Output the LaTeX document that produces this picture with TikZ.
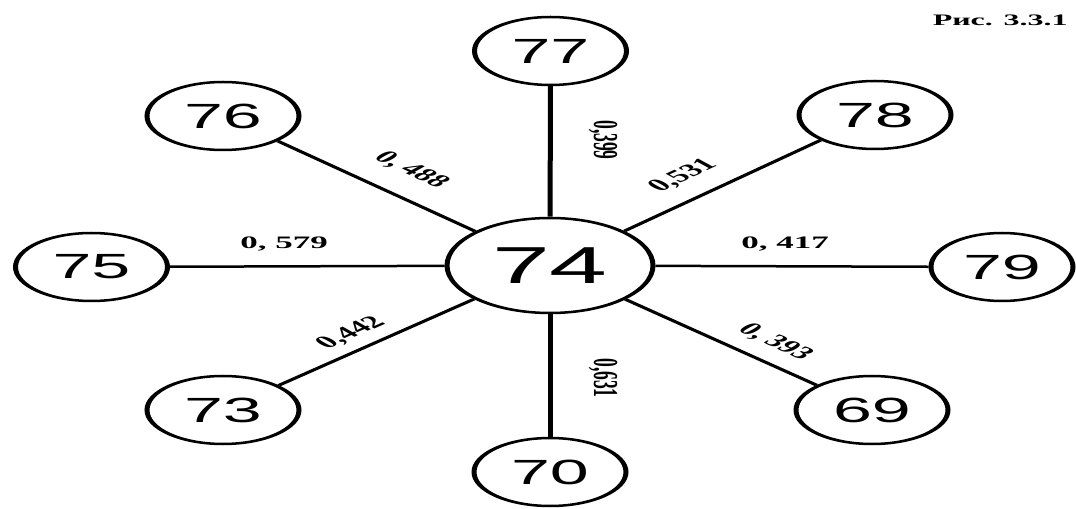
\documentclass[tikz,border=0pt]{standalone}
\usepackage{fontspec}
\setmainfont{Liberation Serif}
\newfontfamily\numfont{Liberation Sans}
\usetikzlibrary{shapes.geometric}
\begin{document}
\begin{tikzpicture}[x=1bp,y=-1bp,
  vert/.style={ellipse,draw,line width=2.5bp,inner sep=0pt,
    minimum width=76bp,minimum height=68bp,
    font=\numfont\fontsize{35bp}{35bp}\selectfont},
  hub/.style={vert,minimum width=103bp,minimum height=95bp,
    font=\numfont\fontsize{52bp}{52bp}\selectfont},
  edge/.style={line width=2.5bp},
  wt/.style={font=\bfseries\fontsize{17.5bp}{17.5bp}\selectfont,inner sep=0pt}]
\useasboundingbox (0,0) rectangle (1076,509);
% the whole drawing is stretched horizontally by a factor of two
\begin{scope}[transform canvas={xscale=2}]
  \node[hub]  (n74) at (275,265.5) {74};
  \node[vert] (n77) at (275.25,51) {77};
  \node[vert] (n76) at (111.5,116) {76};
  \node[vert] (n78) at (437.5,115) {78};
  \node[vert] (n75) at (45.75,267) {75};
  \node[vert,minimum width=71bp] (n79) at (501,267) {79};
  \node[vert] (n73) at (111.5,410) {73};
  \node[vert] (n69) at (436,410) {69};
  \node[vert] (n70) at (275,472) {70};

  \draw[edge] (n74) -- (n77);
  \draw[edge] (n74) -- (n76);
  \draw[edge] (n74) -- (n78);
  \draw[edge] (n74) -- (n75);
  \draw[edge] (n74) -- (n79);
  \draw[edge] (n74) -- (n73);
  \draw[edge] (n74) -- (n69);
  \draw[edge] (n74) -- (n70);

  \node[wt,rotate=-90] (w77) at (301.5,140) {0,399};
  \node[wt,rotate=-42] (w76) at (205.5,170) {0, 488};
  \node[wt,rotate=42.5] (w78) at (341.5,176) {0,531};
  \node[wt] (w75) at (142,244) {0, 579};
  \node[wt] (w79) at (392.5,244) {0, 417};
  \node[wt,rotate=41.5] (w73) at (175.5,333) {0,442};
  \node[wt,rotate=-42] (w69) at (387.5,342) {0, 393};
  \node[wt,rotate=-90] (w70) at (301.5,378) {0,631};

  \node[anchor=base east,inner sep=0pt,
    font=\bfseries\fontsize{16bp}{16bp}\selectfont] (ttl) at (534,26) {Рис. 3.3.1};
\end{scope}
\end{tikzpicture}
\end{document}
